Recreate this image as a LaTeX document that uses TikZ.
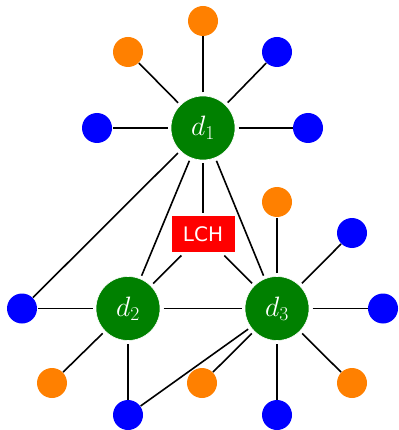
\RequirePackage{fix-cm}
\documentclass[tikz,border=0pt]{standalone}
\usepackage{fontspec}
\newfontfamily\tagfont{DejaVu Sans}
\begin{document}
\begin{tikzpicture}[x=1pt,y=-1pt,
  hub/.style={circle,fill=green!50!black,draw=white,line width=0.6pt,minimum size=64pt,inner sep=0pt,outer sep=3.5pt,text=white,font=\fontsize{28}{32}\selectfont},
  leafO/.style={circle,fill=orange,minimum size=30pt,inner sep=0pt,outer sep=0.5pt},
  leafB/.style={circle,fill=blue,minimum size=30pt,inner sep=0pt,outer sep=0.5pt},
  tag/.style={rectangle,fill=red,minimum width=63pt,minimum height=36pt,inner sep=0pt,outer sep=3.5pt,text=white,font=\tagfont\fontsize{20}{24}\selectfont},
  link/.style={line width=1.6pt}]
\useasboundingbox (0,0) rectangle (398,430);

% hub nodes
\node[hub] (d1) at (203,128) {$d_1$};
\node[hub] (d2) at (128,308.5) {$d_2$};
\node[hub] (d3) at (277,308.5) {$d_3$};
\node[tag] (lch) at (203,234) {LCH};

% leaves of d1
\node[leafO] (a1) at (203,21) {};
\node[leafO] (a2) at (128,52) {};
\node[leafB] (a3) at (277,52) {};
\node[leafB] (a4) at (97,128) {};
\node[leafB] (a5) at (308,128) {};

% leaves of d2
\node[leafB] (b1) at (22,308.5) {};
\node[leafO] (b2) at (52,383) {};
\node[leafB] (b3) at (128,415) {};

% leaves of d3
\node[leafO] (c1) at (277,202) {};
\node[leafB] (c2) at (352,233) {};
\node[leafB] (c3) at (383,308.5) {};
\node[leafO] (c4) at (352,383) {};
\node[leafB] (c5) at (277,415) {};
\node[leafO] (c6) at (202,383) {};

% connectors
\foreach \n in {a1,a2,a3,a4,a5,b1,d2,d3,lch} \draw[link] (d1) -- (\n);
\foreach \n in {b1,b2,b3,d3,lch} \draw[link] (d2) -- (\n);
\foreach \n in {c1,c2,c3,c4,c5,c6,b3,lch} \draw[link] (d3) -- (\n);
\end{tikzpicture}
\end{document}
